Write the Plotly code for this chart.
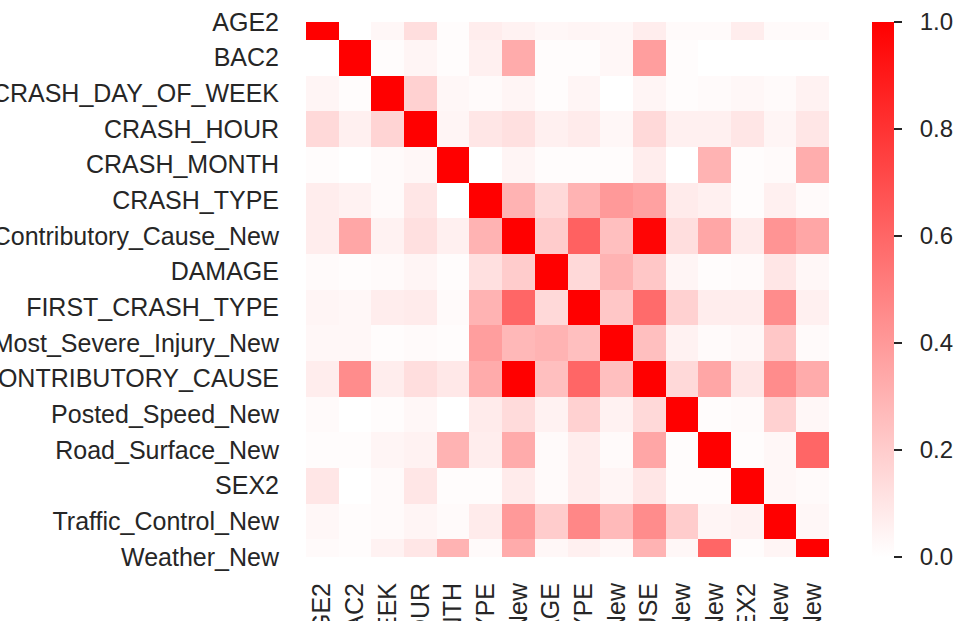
import plotly.graph_objects as go

labels = ["AGE2", "BAC2", "CRASH_DAY_OF_WEEK", "CRASH_HOUR", "CRASH_MONTH",
          "CRASH_TYPE", "Contributory_Cause_New", "DAMAGE", "FIRST_CRASH_TYPE",
          "Most_Severe_Injury_New", "PRIM_CONTRIBUTORY_CAUSE", "Posted_Speed_New",
          "Road_Surface_New", "SEX2", "Traffic_Control_New", "Weather_New"]

age2 = [1.00, 0.00, 0.03, 0.13, 0.01, 0.07, 0.05, 0.03, 0.04, 0.03, 0.07, 0.02, 0.02, 0.07, 0.02, 0.02]
bac2 = [0.00, 1.00, 0.01, 0.04, 0.01, 0.06, 0.33, 0.01, 0.01, 0.03, 0.38, 0.01, 0.00, 0.00, 0.00, 0.00]
crash_dow = [0.04, 0.01, 1.00, 0.18, 0.03, 0.02, 0.04, 0.01, 0.04, 0.00, 0.04, 0.01, 0.02, 0.03, 0.02, 0.05]
crash_hour = [0.15, 0.06, 0.17, 1.00, 0.04, 0.10, 0.12, 0.06, 0.08, 0.03, 0.15, 0.06, 0.06, 0.10, 0.04, 0.10]
crash_month = [0.01, 0.00, 0.02, 0.03, 1.00, 0.00, 0.04, 0.01, 0.01, 0.01, 0.07, 0.00, 0.30, 0.01, 0.02, 0.32]
crash_type = [0.07, 0.05, 0.02, 0.10, 0.00, 1.00, 0.30, 0.15, 0.30, 0.40, 0.37, 0.08, 0.06, 0.01, 0.06, 0.02]
contrib_cause = [0.07, 0.35, 0.05, 0.12, 0.06, 0.30, 1.00, 0.20, 0.62, 0.25, 0.98, 0.13, 0.35, 0.08, 0.42, 0.35]
damage = [0.02, 0.01, 0.02, 0.04, 0.01, 0.12, 0.20, 1.00, 0.15, 0.30, 0.22, 0.04, 0.01, 0.02, 0.10, 0.03]
first_crash = [0.04, 0.03, 0.07, 0.08, 0.02, 0.30, 0.60, 0.15, 1.00, 0.22, 0.58, 0.18, 0.07, 0.07, 0.45, 0.06]
severe_injury = [0.03, 0.03, 0.01, 0.02, 0.01, 0.38, 0.28, 0.30, 0.25, 1.00, 0.25, 0.05, 0.02, 0.03, 0.22, 0.02]
prim_cause = [0.07, 0.45, 0.07, 0.13, 0.09, 0.33, 1.00, 0.25, 0.60, 0.25, 1.00, 0.15, 0.35, 0.10, 0.45, 0.33]
posted_speed = [0.02, 0.00, 0.01, 0.03, 0.00, 0.08, 0.14, 0.05, 0.18, 0.05, 0.15, 1.00, 0.01, 0.02, 0.18, 0.03]
road_surface = [0.01, 0.01, 0.04, 0.05, 0.30, 0.07, 0.33, 0.02, 0.07, 0.02, 0.35, 0.01, 1.00, 0.01, 0.03, 0.60]
sex2 = [0.10, 0.00, 0.02, 0.10, 0.01, 0.01, 0.08, 0.02, 0.07, 0.04, 0.10, 0.01, 0.01, 1.00, 0.03, 0.02]
traffic_control = [0.03, 0.01, 0.02, 0.04, 0.02, 0.08, 0.40, 0.20, 0.47, 0.27, 0.45, 0.20, 0.04, 0.05, 1.00, 0.03]
weather = [0.02, 0.01, 0.05, 0.10, 0.30, 0.02, 0.33, 0.03, 0.06, 0.03, 0.30, 0.03, 0.60, 0.01, 0.04, 1.00]

rows = [age2, bac2, crash_dow, crash_hour, crash_month, crash_type, contrib_cause,
        damage, first_crash, severe_injury, prim_cause, posted_speed, road_surface,
        sex2, traffic_control, weather]

cbar_ticks = [0.0, 0.2, 0.4, 0.6, 0.8, 1.0]

FONT = "Arial, 'Liberation Sans', sans-serif"
TXT = "#262626"
FS = 25

fig = go.Figure(go.Heatmap(
    z=rows, x=labels, y=labels,
    zmin=0, zmax=1,
    colorscale=[[0, "#ffffff"], [1, "#ff0000"]],
    xgap=0, ygap=0,
    colorbar=dict(
        x=(872 - 306) / 523, xanchor="left", xpad=0,
        y=0.5, yanchor="middle", len=1, lenmode="fraction", ypad=0,
        thickness=22, outlinewidth=0,
        tickvals=cbar_ticks, ticktext=["\u00a0\u00a0" + f"{v:.1f}" for v in cbar_ticks],
        ticks="outside", ticklen=8, tickwidth=2, tickcolor=TXT,
        tickfont=dict(family=FONT, size=FS - 1, color=TXT),
    ),
))

fig.update_layout(
    width=974, height=621,
    margin=dict(l=306, r=145, t=22, b=64, autoexpand=False),
    paper_bgcolor="white", plot_bgcolor="white",
    font=dict(family=FONT, size=FS, color=TXT),
    xaxis=dict(type="category", tickangle=-90, showgrid=False, zeroline=False,
               ticks="outside", ticklen=15, tickcolor="rgba(0,0,0,0)",
               tickfont=dict(family=FONT, size=FS, color=TXT), automargin=False,
               range=[-0.5, 15.5]),
    yaxis=dict(type="category", showgrid=False, zeroline=False,
               range=[15, 0],
               ticks="outside", ticklen=21, tickcolor="rgba(0,0,0,0)",
               tickfont=dict(family=FONT, size=FS, color=TXT), automargin=False),
)

fig.write_html("out.html", config={"displayModeBar": False},
               post_script="document.body.style.margin='0';")
